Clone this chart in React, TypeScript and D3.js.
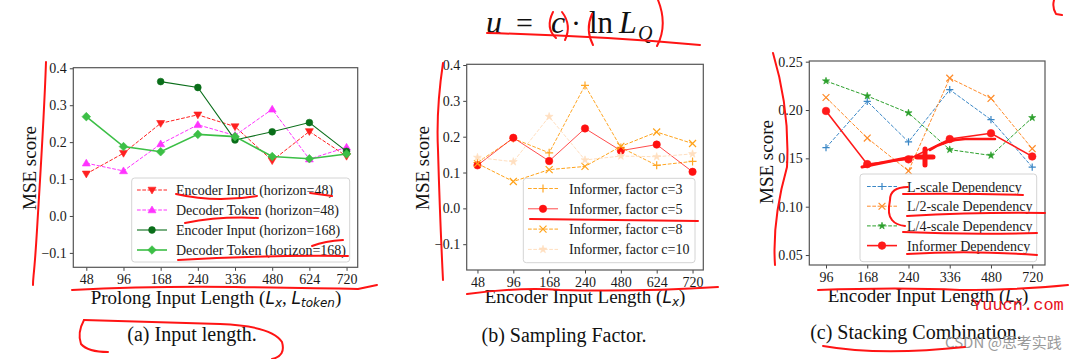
import React, { useEffect, useRef } from "react";
import * as d3 from "d3";

const W = 1081;
const H = 359;
const SERIF = "'Liberation Serif', 'Times New Roman', serif";
const MATH = "'DejaVu Sans', sans-serif";

// (a) Input length
const catsA = ["48", "96", "168", "240", "336", "480", "624", "720"];
const encInput48 = [0.114, 0.17, 0.251, 0.274, 0.242, 0.15, 0.229, 0.162];
const decToken48 = [0.143, 0.122, 0.195, 0.247, 0.218, 0.289, 0.154, 0.186];
const encInput168 = [null, null, 0.364, 0.348, 0.206, 0.228, 0.253, 0.175];
const decToken168 = [0.269, 0.188, 0.174, 0.221, 0.215, 0.161, 0.155, 0.168];
const yTicksA = [-0.1, 0.0, 0.1, 0.2, 0.3, 0.4];

// (b) Sampling factor
const catsB = ["48", "96", "168", "240", "480", "624", "720"];
const factor3 = [0.128, 0.195, 0.155, 0.343, 0.17, 0.12, 0.131];
const factor5 = [0.12, 0.197, 0.132, 0.223, 0.161, 0.178, 0.102];
const factor8 = [0.125, 0.075, 0.108, 0.117, 0.173, 0.213, 0.181];
const factor10 = [0.142, 0.13, 0.256, 0.135, 0.146, 0.144, 0.152];
const yTicksB = [-0.1, 0.0, 0.1, 0.2, 0.3, 0.4];

// (c) Stacking combination
const catsC = ["96", "168", "240", "336", "480", "720"];
const lScale = [0.161, 0.209, 0.167, 0.221, 0.19, 0.141];
const l2Scale = [0.213, 0.171, 0.137, 0.233, 0.212, 0.16];
const l4Scale = [0.23, 0.2145, 0.197, 0.159, 0.153, 0.192];
const informerDep = [0.199, 0.144, 0.149, 0.17, 0.176, 0.152];
const yTicksC = [0.05, 0.1, 0.15, 0.2, 0.25];

type Series = {
  name: string;
  values: (number | null)[];
  color: string;
  dash?: string;
  width: number;
  marker: string;
  msize: number;
  lineOpacity?: number;
};

type Panel = {
  cats: string[];
  frame: [number, number, number, number]; // x0, y0, x1, y1
  xDomain: [number, number];
  yDomain: [number, number];
  yTicks: number[];
  yFmt: (d: number) => string;
  series: Series[];
  legend: { x: number; y: number; w: number; h: number; row0: number; step: number; h0: number; h1: number; tx: number };
  yLabel: [number, number];
  xLabel: { cx: number; y: number; parts: [string, string][] };
  caption: { cx: number; y: number; text: string };
};

const minus = (d: number) => (d < 0 ? "\u2212" + Math.abs(d).toFixed(1) : d.toFixed(1));

const panels: Panel[] = [
  {
    cats: catsA,
    frame: [73.3, 67.7, 357.7, 267.3],
    xDomain: [-0.35, 7.3],
    yDomain: [-0.139, 0.4016],
    yTicks: yTicksA,
    yFmt: minus,
    series: [
      { name: "Encoder Input (horizon=48)", values: encInput48, color: "#ff2020", dash: "3.7,1.6", width: 1, marker: "triDown", msize: 4 },
      { name: "Decoder Token (horizon=48)", values: decToken48, color: "#ff33ff", dash: "3.7,1.6", width: 1, marker: "triUp", msize: 4 },
      { name: "Encoder Input (horizon=168)", values: encInput168, color: "#0a6e1a", width: 1.1, marker: "circle", msize: 3.4 },
      { name: "Decoder Token (horizon=168)", values: decToken168, color: "#3cbf46", width: 1.6, marker: "diamond", msize: 4.3 },
    ],
    legend: { x: 131.7, y: 178, w: 218, h: 84, row0: 190, step: 20, h0: 137, h1: 167, tx: 176 },
    yLabel: [30, 168],
    xLabel: {
      cx: 216,
      y: 304,
      parts: [["t", "Prolong Input Length ("], ["m", "L"], ["s", "x"], ["t", ", "], ["m", "L"], ["s", "token"], ["t", ")"]],
    },
    caption: { cx: 192, y: 341, text: "(a) Input length." },
  },
  {
    cats: catsB,
    frame: [466.7, 64.3, 703.3, 270],
    xDomain: [-0.3, 6.3],
    yDomain: [-0.172, 0.402],
    yTicks: yTicksB,
    yFmt: minus,
    series: [
      { name: "Informer, factor c=3", values: factor3, color: "#ffa726", dash: "3.7,1.6", width: 1, marker: "plus", msize: 4 },
      { name: "Informer, factor c=5", values: factor5, color: "#ff1010", width: 1, marker: "circle", msize: 3.7, lineOpacity: 0.75 },
      { name: "Informer, factor c=8", values: factor8, color: "#ffa31a", dash: "3.7,1.6", width: 1, marker: "x", msize: 3.5 },
      { name: "Informer, factor c=10", values: factor10, color: "#ffdfc0", dash: "3.7,1.6", width: 1, marker: "star", msize: 4.2 },
    ],
    legend: { x: 523.3, y: 178.3, w: 171.7, h: 84.4, row0: 188.5, step: 20.3, h0: 528, h1: 558, tx: 569 },
    yLabel: [423, 168],
    xLabel: { cx: 585, y: 303, parts: [["t", "Encoder Input Length ("], ["m", "L"], ["s", "x"], ["t", ")"]] },
    caption: { cx: 564, y: 342, text: "(b) Sampling Factor." },
  },
  {
    cats: catsC,
    frame: [809.3, 61, 1045, 265],
    xDomain: [-0.405, 5.31],
    yDomain: [0.0397, 0.2507],
    yTicks: yTicksC,
    yFmt: (d) => d.toFixed(2),
    series: [
      { name: "L-scale Dependency", values: lScale, color: "#3a87c6", dash: "3.7,1.6", width: 1, marker: "plus", msize: 3.6 },
      { name: "L/2-scale Dependency", values: l2Scale, color: "#ff8c2a", dash: "3.7,1.6", width: 1, marker: "x", msize: 3.4 },
      { name: "L/4-scale Dependency", values: l4Scale, color: "#2ca02c", dash: "3.7,1.6", width: 1, marker: "star", msize: 3.8 },
      { name: "Informer Dependency", values: informerDep, color: "#ff1a1a", width: 1.6, marker: "circle", msize: 3.8 },
    ],
    legend: { x: 860, y: 174, w: 176.7, h: 87.7, row0: 186.5, step: 19.7, h0: 867, h1: 897, tx: 907 },
    yLabel: [767, 162],
    xLabel: { cx: 928, y: 302, parts: [["t", "Encoder Input Length ("], ["m", "L"], ["s", "x"], ["t", ")"]] },
    caption: { cx: 916, y: 339, text: "(c) Stacking Combination." },
  },
];

// hand-drawn red pen strokes on top of the figure
const penStrokes: [string, number][] = [
  ["M46,62 C44,120 40,180 37,230 S33,275 33,285", 2],
  ["M72,290 Q150,286 235,287 T358,289 L377,285", 2],
  ["M176,194 Q215,203 257,196", 2],
  ["M310,193 L332,196", 2],
  ["M185,223 Q220,216 258,218", 2],
  ["M312,246 Q325,241 343,240", 2],
  ["M178,260 Q260,255 348,256", 2],
  ["M84,320 Q150,322 220,324 Q272,326 282,342 Q286,356 272,359", 2],
  ["M84,320 Q77,333 81,344 Q88,352 108,352", 2],
  ["M443,63 Q436,110 438,150 Q440,220 443,280", 2],
  ["M467,294 Q520,287 560,290 Q640,292 718,287", 2],
  ["M530,219 L698,221", 2],
  ["M773,53 Q790,110 787,167 Q772,220 775,265", 2],
  ["M818,290 Q900,287 960,290 Q1020,290 1068,285", 2],
  ["M903,194 Q960,193 1023,195", 2],
  ["M907,216 Q980,212 1045,213", 2],
  ["M903,232 Q970,235 1037,233", 2],
  ["M907,254 Q970,250 1037,255", 2],
  ["M908,187 Q890,187 890,200 Q887,215 892,220 Q896,225 905,226", 2],
  ["M862,167 Q885,162 912,157", 3],
  ["M917,157 H933 M925,149 V165", 5],
  ["M930,150 Q945,140 965,139 L995,139", 2.5],
  ["M823,346 Q880,356 965,347", 2],
  ["M487,33 Q600,36 700,45", 2],
  ["M553,12 Q545,28 556,38", 2],
  ["M562,12 Q572,25 565,40", 2],
  ["M592,14 Q585,30 593,45", 2],
  ["M658,0 Q668,25 657,46", 2],
  ["M1054,0 Q1052,8 1056,14 L1062,15", 2],
];

function markerPath(kind: string, s: number): string {
  switch (kind) {
    case "circle":
      return d3.symbol(d3.symbolCircle, Math.PI * s * s)() as string;
    case "triDown":
      return `M${-s},${-s * 0.7}L${s},${-s * 0.7}L0,${s}Z`;
    case "triUp":
      return `M${-s},${s * 0.7}L${s},${s * 0.7}L0,${-s}Z`;
    case "diamond":
      return `M0,${-s}L${s},0L0,${s}L${-s},0Z`;
    case "plus":
      return `M${-s},0H${s}M0,${-s}V${s}`;
    case "x":
      return `M${-s},${-s}L${s},${s}M${-s},${s}L${s},${-s}`;
    default:
      return d3.symbol(d3.symbolStar, s * s * 1.1)() as string;
  }
}

const strokedOnly = (k: string) => k === "plus" || k === "x";

function drawMarker(g: any, kind: string, s: number, color: string, cx: number, cy: number) {
  g.append("path")
    .attr("d", markerPath(kind, s))
    .attr("transform", `translate(${cx},${cy})`)
    .attr("fill", strokedOnly(kind) ? "none" : color)
    .attr("stroke", color)
    .attr("stroke-width", strokedOnly(kind) ? 1.2 : 0.6);
}

function drawPanel(svg: any, p: Panel) {
  const [x0, y0, x1, y1] = p.frame;
  const x = d3.scaleLinear().domain(p.xDomain).range([x0, x1]);
  const y = d3.scaleLinear().domain(p.yDomain).range([y1, y0]);

  const gx = svg
    .append("g")
    .attr("transform", `translate(0,${y1})`)
    .call(
      d3
        .axisBottom(x)
        .tickValues(d3.range(p.cats.length))
        .tickFormat((i: any) => p.cats[i])
        .tickSizeInner(3.5)
        .tickSizeOuter(0)
        .tickPadding(3.5)
    );
  gx.select(".domain").remove();
  gx.attr("font-family", SERIF).attr("font-size", 14);
  gx.selectAll("text").attr("fill", "#1a1a1a");
  gx.selectAll("line").attr("stroke", "#444");

  const gy = svg
    .append("g")
    .attr("transform", `translate(${x0},0)`)
    .call(d3.axisLeft(y).tickValues(p.yTicks).tickFormat((d: any) => p.yFmt(d)).tickSizeInner(3.5).tickSizeOuter(0).tickPadding(3));
  gy.select(".domain").remove();
  gy.attr("font-family", SERIF).attr("font-size", 14);
  gy.selectAll("text").attr("fill", "#1a1a1a");
  gy.selectAll("line").attr("stroke", "#444");

  const plot = svg.append("g");
  p.series.forEach((s) => {
    const line = d3
      .line<number | null>()
      .defined((d) => d != null)
      .x((_, i) => x(i))
      .y((d) => y(d as number));
    plot
      .append("path")
      .attr("d", line(s.values))
      .attr("fill", "none")
      .attr("stroke", s.color)
      .attr("stroke-width", s.width)
      .attr("stroke-opacity", s.lineOpacity ?? 1)
      .attr("stroke-dasharray", s.dash ?? null);
    s.values.forEach((v, i) => {
      if (v != null) drawMarker(plot, s.marker, s.msize, s.color, x(i), y(v));
    });
  });

  svg
    .append("rect")
    .attr("x", x0)
    .attr("y", y0)
    .attr("width", x1 - x0)
    .attr("height", y1 - y0)
    .attr("fill", "none")
    .attr("stroke", "#555")
    .attr("stroke-width", 1.2);

  // legend
  const L = p.legend;
  const lg = svg.append("g");
  lg.append("rect")
    .attr("x", L.x)
    .attr("y", L.y)
    .attr("width", L.w)
    .attr("height", L.h)
    .attr("rx", 3)
    .attr("fill", "#fff")
    .attr("fill-opacity", 0.85)
    .attr("stroke", "#d4d4d4");
  p.series.forEach((s, i) => {
    const ry = L.row0 + i * L.step;
    lg.append("line")
      .attr("x1", L.h0)
      .attr("x2", L.h1)
      .attr("y1", ry)
      .attr("y2", ry)
      .attr("stroke", s.color)
      .attr("stroke-width", s.width)
      .attr("stroke-opacity", s.lineOpacity ?? 1)
      .attr("stroke-dasharray", s.dash ?? null);
    drawMarker(lg, s.marker, s.msize, s.color, (L.h0 + L.h1) / 2, ry);
    lg.append("text")
      .attr("x", L.tx)
      .attr("y", ry + 5)
      .attr("font-family", SERIF)
      .attr("font-size", 14)
      .attr("fill", "#1a1a1a")
      .text(s.name);
  });

  // axis labels
  svg
    .append("text")
    .attr("transform", `translate(${p.yLabel[0] + 6},${p.yLabel[1]}) rotate(-90)`)
    .attr("text-anchor", "middle")
    .attr("font-family", SERIF)
    .attr("font-size", 19)
    .attr("fill", "#111")
    .text("MSE score");

  const xl = svg
    .append("text")
    .attr("x", p.xLabel.cx)
    .attr("y", p.xLabel.y)
    .attr("text-anchor", "middle")
    .attr("fill", "#111");
  let shifted = false;
  p.xLabel.parts.forEach(([kind, str]) => {
    const t = xl.append("tspan").text(str);
    if (kind === "t") t.attr("font-family", SERIF).attr("font-size", 19);
    if (kind === "m") t.attr("font-family", MATH).attr("font-style", "oblique").attr("font-size", 17);
    if (kind === "s") {
      t.attr("font-family", MATH).attr("font-style", "oblique").attr("font-size", 12).attr("dy", 3);
      shifted = true;
    } else if (shifted) {
      t.attr("dy", -3);
      shifted = false;
    }
  });

  svg
    .append("text")
    .attr("x", p.caption.cx)
    .attr("y", p.caption.y)
    .attr("text-anchor", "middle")
    .attr("font-family", SERIF)
    .attr("font-size", 20)
    .attr("fill", "#111")
    .text(p.caption.text);
}

export default function App() {
  const ref = useRef<SVGSVGElement | null>(null);

  useEffect(() => {
    const svg = d3.select(ref.current);
    svg.selectAll("*").remove();
    svg.append("rect").attr("width", W).attr("height", H).attr("fill", "#fff");

    panels.forEach((p) => drawPanel(svg, p));

    // formula at the top
    const f = svg.append("g").attr("font-family", SERIF).attr("fill", "#111");
    f.append("text").attr("x", 486).attr("y", 33).attr("font-size", 32).attr("font-style", "italic").text("u");
    f.append("text").attr("x", 516).attr("y", 33).attr("font-size", 30).text("=");
    f.append("text").attr("x", 551).attr("y", 33).attr("font-size", 32).attr("font-style", "italic").text("c");
    f.append("text").attr("x", 571).attr("y", 33).attr("font-size", 30).text("\u00b7");
    f.append("text").attr("x", 589).attr("y", 33).attr("font-size", 31).text("ln");
    f.append("text").attr("x", 619).attr("y", 33).attr("font-size", 32).attr("font-style", "italic").text("L");
    f.append("text").attr("x", 638).attr("y", 40).attr("font-size", 20).attr("font-style", "italic").text("Q");

    // watermarks
    svg.append("text")
      .attr("x", 972)
      .attr("y", 310)
      .attr("font-family", "'Liberation Mono', monospace")
      .attr("font-size", 17)
      .attr("fill", "#e8101a")
      .text("Yuucn.com");
    svg.append("text")
      .attr("x", 945)
      .attr("y", 348)
      .attr("font-family", "'Noto Sans CJK SC', 'Noto Sans', sans-serif")
      .attr("font-size", 15)
      .attr("fill", "#9a9a9a")
      .text("CSDN @思考实践");

    // red pen annotations
    const pen = svg.append("g").attr("fill", "none").attr("stroke", "#ff1414").attr("stroke-linecap", "round").attr("stroke-linejoin", "round");
    penStrokes.forEach(([d, w]) => pen.append("path").attr("d", d).attr("stroke-width", w));
  }, []);

  return <svg ref={ref} width={W} height={H} style={{ position: "absolute", left: 0, top: 0 }} />;
}
